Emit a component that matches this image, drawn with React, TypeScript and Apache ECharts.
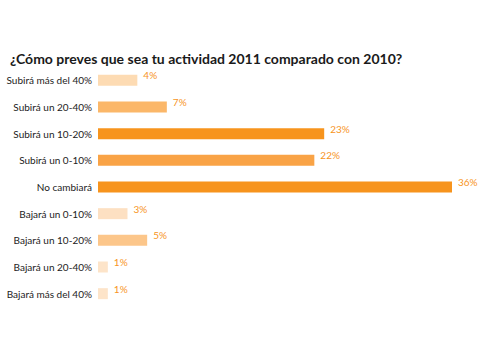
import React, { useEffect, useRef } from "react";
import * as echarts from "echarts";

const categories = [
  "Subirá más del 40%",
  "Subirá un 20-40%",
  "Subirá un 10-20%",
  "Subirá un 0-10%",
  "No cambiará",
  "Bajará un 0-10%",
  "Bajará un 10-20%",
  "Bajará un 20-40%",
  "Bajará más del 40%",
];
const values = [4, 7, 23, 22, 36, 3, 5, 1, 1];
const colors = ["#fddbb3", "#fbb769", "#f7941d", "#f9a346", "#f7941d", "#fde0c2", "#fcc68a", "#fde4c9", "#fde4c9"];
const title = "¿Cómo preves que sea tu actividad 2011 comparado con 2010?";

export default function App() {
  const ref = useRef<HTMLDivElement>(null);
  useEffect(() => {
    const chart = echarts.init(ref.current!, null, { renderer: "svg" });
    chart.setOption({
      animation: false,
      backgroundColor: "#ffffff",
      title: {
        text: title,
        left: 5,
        top: 46,
        textStyle: { fontFamily: "Lato", fontWeight: "bold", fontSize: 14, color: "#1a1a1a" },
      },
      grid: { left: 98, right: 28, top: 67, height: 240, containLabel: false, outerBoundsMode: "none" },
      xAxis: { type: "value", min: 0, max: 36, show: false },
      yAxis: {
        type: "category",
        data: categories,
        inverse: true,
        axisLine: { show: false },
        axisTick: { show: false },
        axisLabel: { fontFamily: "Lato", fontSize: 10, color: "#222", margin: 6 },
      },
      series: [
        {
          type: "bar",
          data: values.map((v, i) => ({ value: v, itemStyle: { color: colors[i] } })),
          barWidth: 11,
          label: {
            show: true,
            position: "right",
            offset: [1, -5],
            formatter: "{c}%",
            fontFamily: "Lato",
            fontSize: 10,
            color: "#f7941d",
          },
        },
      ],
    });
    return () => chart.dispose();
  }, []);
  return <div ref={ref} style={{ width: 480, height: 360, position: "absolute", left: 0, top: 0 }} />;
}
